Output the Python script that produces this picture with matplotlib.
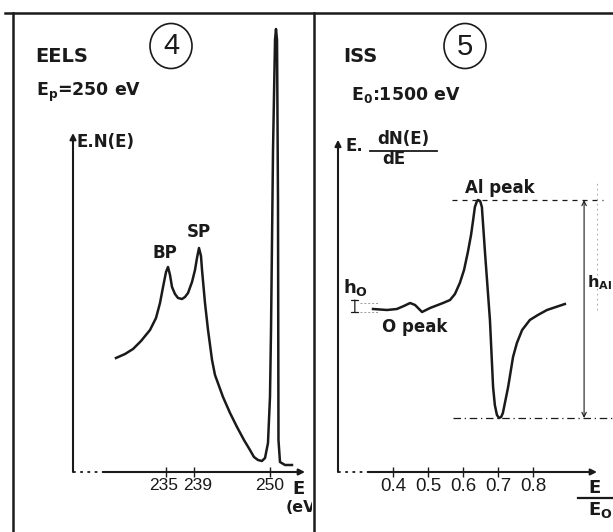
import matplotlib
matplotlib.use("Agg")
import matplotlib.pyplot as plt
from matplotlib.patches import Ellipse, Rectangle
from matplotlib.lines import Line2D
from matplotlib.transforms import ScaledTranslation
from matplotlib import font_manager

# EELS spectrum (panel 4): energy (eV) vs E.N(E) (arbitrary units)
eels_E = [227.75, 229.06, 230.22, 231.38, 232.68, 233.55, 234.13, 234.57, 235.00,
          235.29, 235.58, 235.87, 236.30, 236.74, 237.32, 237.75, 238.19, 238.77,
          239.20, 239.49, 239.78, 240.07, 240.22, 240.65, 241.09, 241.67, 242.10,
          243.26, 244.28, 245.29, 246.30, 247.17, 247.75, 248.33, 248.90, 249.35,
          249.78, 250.07, 250.22, 250.51, 250.80, 250.94, 251.09, 251.23, 251.30,
          251.52, 252.25, 253.26]
eels_I = [114, 118, 123, 131, 142, 154, 169, 185, 200,
          205, 197, 185, 178, 174, 173, 175, 179, 190,
          202, 214, 224, 216, 202, 169, 142, 112, 97,
          75, 59, 45, 32, 22, 15, 12, 11, 14,
          29, 75, 142, 322, 432, 443, 432, 272, 32,
          10, 7, 7]
eels_ticks = [235, 239, 250]
eels_ticklabels = ["235", "239", "250"]

# ISS spectrum (panel 5): E/E0 vs E.dN(E)/dE (arbitrary units)
iss_x = [0.343, 0.383, 0.411, 0.431, 0.449, 0.463, 0.483, 0.506, 0.543, 0.563,
         0.577, 0.591, 0.603, 0.614, 0.623, 0.629, 0.634, 0.640, 0.643, 0.649,
         0.654, 0.663, 0.677, 0.686, 0.691, 0.697, 0.703, 0.709, 0.714, 0.729,
         0.743, 0.754, 0.769, 0.791, 0.814, 0.840, 0.891]
iss_y = [163, 162, 163, 166, 169, 167, 160, 164, 169, 172,
         178, 189, 202, 220, 237, 252, 265, 271, 272, 271,
         265, 219, 152, 85, 67, 57, 54, 55, 59, 85,
         115, 129, 142, 152, 157, 162, 168]
iss_ticks = [0.4, 0.5, 0.6, 0.7, 0.8]
iss_ticklabels = ["0.4", "0.5", "0.6", "0.7", "0.8"]

W, H = 613, 532
ink = "#1a1a1a"

def fx(px):
    return px / W

def fy(py):
    return 1 - py / H

names = {f.name for f in font_manager.fontManager.ttflist}
narrow = "DejaVu Sans"
for cand in ["Liberation Sans Narrow", "Liberation Sans"]:
    if cand in names:
        narrow = cand
        break

plt.rcParams["font.family"] = "DejaVu Sans"
plt.rcParams["mathtext.fontset"] = "dejavusans"
plt.rcParams["mathtext.default"] = "bf"

fig = plt.figure(figsize=(6.13, 5.32), dpi=100)
fig.patch.set_facecolor("white")

# frame lines of the original plate
for xs, ys in [([5, 613], [13, 13]), ([12.5, 12.5], [13, 532]), ([313.5, 313.5], [13, 532])]:
    fig.add_artist(Line2D([fx(x) for x in xs], [fy(y) for y in ys],
                          transform=fig.transFigure, color=ink, lw=1.8))

ax1 = fig.add_axes([fx(73), fy(472), fx(305) - fx(73), fy(20) - fy(472)])
ax2 = fig.add_axes([fx(338), fy(472), fx(597) - fx(338), fy(20) - fy(472)])
ax1.set_xlim(221.52, 255.145)
ax2.set_xlim(0.2429, 0.9829)

for ax, ytop, xdot, lsize in [(ax1, 0.75, 0.13, 12.5), (ax2, 0.735, 0.116, 13.5)]:
    ax.set_ylim(0, 452)
    ax.patch.set_alpha(0)
    for s in ax.spines.values():
        s.set_visible(False)
    ax.set_yticks([])
    ax.annotate("", xy=(0, ytop), xytext=(0, 0), xycoords="axes fraction",
                arrowprops=dict(arrowstyle="-|>", lw=1.5, color=ink,
                                mutation_scale=9, shrinkA=0, shrinkB=0))
    ax.plot([0, xdot], [0, 0], transform=ax.transAxes, color=ink, lw=1.3,
            ls=(0, (1.5, 2.5)), clip_on=False)
    ax.annotate("", xy=(1, 0), xytext=(xdot, 0), xycoords="axes fraction",
                arrowprops=dict(arrowstyle="-|>", lw=1.5, color=ink,
                                mutation_scale=9, shrinkA=0, shrinkB=0))
    ax.tick_params(axis="x", direction="inout", length=7, width=1, color=ink,
                   pad=1, labelsize=lsize, labelcolor=ink)

ax1.set_xticks(eels_ticks)
ax1.set_xticklabels(eels_ticklabels, family=narrow)
ax2.set_xticks(iss_ticks)
ax2.set_xticklabels(iss_ticklabels, family=narrow)

# hand-lettered labels sit slightly apart on the original
fig.canvas.draw()
for lab, dx in zip(ax1.get_xticklabels(), [-2, 4, 0]):
    lab.set_transform(lab.get_transform() + ScaledTranslation(dx / 100, 0, fig.dpi_scale_trans))

ax1.plot(eels_E, eels_I, color=ink, lw=1.8, solid_joinstyle="round", clip_on=False)
ax2.plot(iss_x, iss_y, color=ink, lw=1.8, solid_joinstyle="round", clip_on=False)

# peak-to-peak construction for the Al peak
al_top, al_bot = max(iss_y), min(iss_y)
ax2.plot([0.569, 1.0], [al_top, al_top], color=ink, lw=0.9, ls=(0, (4, 4)), clip_on=False)
ax2.plot([0.571, 1.03], [al_bot, al_bot], color=ink, lw=0.9, ls=(0, (6, 3, 1, 3)), clip_on=False)
ax2.annotate("", xy=(0.946, al_top), xytext=(0.946, al_bot),
             arrowprops=dict(arrowstyle="<->", lw=0.8, color=ink, shrinkA=0, shrinkB=0,
                             mutation_scale=8), annotation_clip=False)
ax2.plot([0.983, 0.983], [162, 292], color="#999999", lw=0.6, ls=(0, (2, 4)), clip_on=False)

# h_O construction
ax2.plot([0.306, 0.357], [169, 169], color="#9a9a9a", lw=0.7, ls=(0, (2, 2)), clip_on=False)
ax2.plot([0.306, 0.357], [160, 160], color="#9a9a9a", lw=0.7, ls=(0, (2, 2)), clip_on=False)
ax2.annotate("", xy=(0.291, 172), xytext=(0.291, 160),
             arrowprops=dict(arrowstyle="|-|, widthA=0.25, widthB=0.25", lw=0.9,
                             color=ink, shrinkA=0, shrinkB=0), annotation_clip=False)

# circled panel numbers
for cx in [171, 465]:
    fig.add_artist(Ellipse((fx(cx), fy(46)), 42 / W, 45 / H, transform=fig.transFigure,
                           fill=False, lw=1.2, ec=ink))
fig.text(fx(171), fy(46), "4", ha="center", va="center", fontsize=21, family=narrow, color=ink)
fig.text(fx(465), fy(47), "5", ha="center", va="center", fontsize=21, family=narrow, color=ink)

bold = dict(fontweight="bold", color=ink)
fig.text(fx(35), fy(57), "EELS", ha="left", va="center", fontsize=14, **bold)
fig.text(fx(36), fy(92), "E$_p$=250 eV", ha="left", va="center", fontsize=12.5, **bold)
fig.text(fx(77), fy(142), "E.N(E)", ha="left", va="center", fontsize=12, **bold)
fig.text(fx(165), fy(253), "BP", ha="center", va="center", fontsize=12, **bold)
fig.text(fx(199), fy(232), "SP", ha="center", va="center", fontsize=12, **bold)
fig.text(fx(298), fy(489), "E", ha="center", va="center", fontsize=13, **bold)
t = fig.text(fx(286), fy(508), "(eV)", ha="left", va="center", fontsize=11.5, **bold)
t.set_clip_path(Rectangle((0, 0), fx(312), 1, transform=fig.transFigure))

fig.text(fx(343), fy(57), "ISS", ha="left", va="center", fontsize=14, **bold)
fig.text(fx(351), fy(95), "E$_0$:1500 eV", ha="left", va="center", fontsize=12.5, **bold)
fig.text(fx(345), fy(146), "E.", ha="left", va="center", fontsize=12, **bold)
fig.text(fx(403), fy(139), "dN(E)", ha="center", va="center", fontsize=12, **bold)
fig.add_artist(Line2D([fx(370), fx(437)], [fy(151), fy(151)], transform=fig.transFigure,
                      color=ink, lw=1.3))
fig.text(fx(394), fy(159), "dE", ha="center", va="center", fontsize=12, **bold)
fig.text(fx(500), fy(188), "Al peak", ha="center", va="center", fontsize=12, **bold)
fig.text(fx(343), fy(287), "h$_O$", ha="left", va="center", fontsize=13, **bold)
fig.text(fx(415), fy(327), "O peak", ha="center", va="center", fontsize=12, **bold)
fig.text(fx(587), fy(283), "h$_{Al}$", ha="left", va="center", fontsize=11.5, **bold)
fig.text(fx(595), fy(488), "E", ha="center", va="center", fontsize=13, **bold)
fig.add_artist(Line2D([fx(578), fx(613)], [fy(498), fy(498)], transform=fig.transFigure,
                      color=ink, lw=1.6))
fig.text(fx(588), fy(510), "E$_O$", ha="left", va="center", fontsize=13, **bold)

fig.savefig("out.png", dpi=100)
